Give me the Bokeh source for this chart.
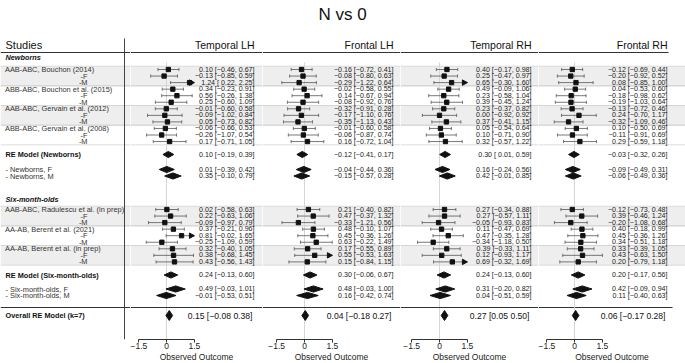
import numpy as np
from bokeh.plotting import figure
from bokeh.layouts import row
from bokeh.models import Range1d, BoxAnnotation, Span, FixedTicker
from bokeh.core.properties import value
from bokeh.embed import file_html
from bokeh.resources import INLINE

# ---------------- data ----------------
TITLE = "N vs 0"
PANELS = ["Temporal LH", "Frontal LH", "Temporal RH", "Frontal RH"]

newborn_labels = ["AAB-ABC, Bouchon (2014)", "-F", "-M",
                  "ABB-ABC, Bouchon et al. (2015)", "-F", "-M",
                  "AAB-ABC, Gervain et al. (2012)", "-F", "-M",
                  "ABB-ABC, Gervain et al. (2008)", "-F", "-M"]
six_labels = ["AAB-ABC, Radulescu et al. (in prep)", "-F", "-M",
              "AA-AB, Berent et al. (2021)", "-F", "-M",
              "AA-AB, Berent et al. (in prep)", "-F", "-M"]
summary_labels = ["RE Model (Newborns)", "- Newborns, F", "- Newborns, M",
                  "RE Model (Six-month-olds)", "- Six-month-olds, F", "- Six-month-olds, M"]
overall_label = "Overall RE Model (k=7)"

# Temporal LH
tlh_nb_est = [0.10, -0.13, 1.24, 0.34, 0.56, 0.25, -0.01, -0.09, 0.05, -0.06, -0.26, 0.17]
tlh_nb_lo = [-0.46, -0.85, 0.22, -0.23, -0.26, -0.60, -0.60, -1.02, -0.73, -0.66, -1.07, -0.71]
tlh_nb_hi = [0.67, 0.59, 2.25, 0.91, 1.38, 1.09, 0.58, 0.84, 0.82, 0.53, 0.54, 1.05]
tlh_six_est = [0.02, 0.22, -0.09, 0.37, 0.81, -0.25, 0.32, 0.38, 0.43]
tlh_six_lo = [-0.58, -0.63, -0.97, -0.21, -0.02, -1.09, -0.40, -0.68, -0.56]
tlh_six_hi = [0.63, 1.06, 0.79, 0.96, 1.65, 0.59, 1.05, 1.45, 1.43]
tlh_sum_est = [0.10, 0.01, 0.35, 0.24, 0.49, -0.01]
tlh_sum_lo = [-0.19, -0.39, -0.10, -0.13, -0.03, -0.53]
tlh_sum_hi = [0.39, 0.42, 0.79, 0.60, 1.01, 0.51]
tlh_overall = [0.15, -0.08, 0.38]

# Frontal LH
flh_nb_est = [-0.16, -0.08, -0.29, -0.02, 0.14, -0.08, -0.32, -0.17, -0.35, -0.01, -0.06, 0.16]
flh_nb_lo = [-0.72, -0.80, -1.22, -0.58, -0.67, -0.92, -0.91, -1.10, -1.13, -0.60, -0.87, -0.72]
flh_nb_hi = [0.41, 0.63, 0.64, 0.55, 0.94, 0.76, 0.28, 0.76, 0.43, 0.58, 0.74, 1.04]
flh_six_est = [0.21, 0.47, -0.33, 0.48, 0.45, 0.63, 0.17, 0.55, 0.15]
flh_six_lo = [-0.40, -0.37, -1.21, -0.10, -0.36, -0.22, -0.55, -0.53, -0.84]
flh_six_hi = [0.82, 1.32, 0.56, 1.07, 1.26, 1.49, 0.89, 1.63, 1.15]
flh_sum_est = [-0.12, -0.04, -0.15, 0.30, 0.48, 0.16]
flh_sum_lo = [-0.41, -0.44, -0.57, -0.06, -0.03, -0.42]
flh_sum_hi = [0.17, 0.36, 0.28, 0.67, 1.00, 0.74]
flh_overall = [0.04, -0.18, 0.27]

# Temporal RH
trh_nb_est = [0.40, 0.25, 0.65, 0.49, 0.23, 0.39, 0.23, 0.00, 0.37, 0.05, 0.10, 0.32]
trh_nb_lo = [-0.17, -0.47, -0.30, -0.09, -0.58, -0.45, -0.37, -0.92, -0.41, -0.54, -0.71, -0.57]
trh_nb_hi = [0.98, 0.97, 1.60, 1.06, 1.04, 1.24, 0.82, 0.92, 1.15, 0.64, 0.90, 1.22]
trh_six_est = [0.27, 0.27, -0.05, 0.11, 0.47, -0.34, 0.39, 0.12, 0.69]
trh_six_lo = [-0.34, -0.57, -0.93, -0.47, -0.35, -1.18, -0.33, -0.93, -0.32]
trh_six_hi = [0.88, 1.11, 0.83, 0.69, 1.28, 0.50, 1.11, 1.17, 1.69]
trh_sum_est = [0.30, 0.16, 0.42, 0.24, 0.31, 0.04]
trh_sum_lo = [0.01, -0.24, -0.01, -0.13, -0.20, -0.51]
trh_sum_hi = [0.59, 0.56, 0.85, 0.60, 0.82, 0.59]
trh_overall = [0.27, 0.05, 0.50]

# Frontal RH
frh_nb_est = [-0.12, -0.20, 0.08, 0.04, -0.18, -0.19, -0.13, 0.24, -0.32, 0.10, -0.11, 0.29]
frh_nb_lo = [-0.69, -0.92, -0.85, -0.53, -0.98, -1.03, -0.72, -0.70, -1.09, -0.50, -0.91, -0.59]
frh_nb_hi = [0.44, 0.52, 1.00, 0.60, 0.62, 0.64, 0.46, 1.17, 0.46, 0.69, 0.69, 1.18]
frh_six_est = [-0.12, 0.39, -0.20, 0.40, 0.45, 0.34, 0.33, 0.43, 0.20]
frh_six_lo = [-0.73, -0.46, -1.08, -0.18, -0.36, -0.51, -0.39, -0.63, -0.79]
frh_six_hi = [0.48, 1.24, 0.68, 0.99, 1.26, 1.18, 1.05, 1.50, 1.18]
frh_sum_est = [-0.03, -0.09, -0.06, 0.20, 0.42, 0.11]
frh_sum_lo = [-0.32, -0.49, -0.49, -0.17, -0.09, -0.40]
frh_sum_hi = [0.26, 0.31, 0.36, 0.56, 0.94, 0.63]
frh_overall = [0.06, -0.17, 0.28]

TICKS = [-1.5, 0, 1.5]
TICK_LABELS = ["\u22121.5", "0", "1.5"]
CLIP = 1.5

# ---------------- layout constants ----------------
FONT = "Liberation Sans"
Y_TOP = 1.0           # layout unit at the top of every frame
Y_AXIS = 340.0        # layout unit where the axis line sits
PAN_H = 339           # 1 px per layout unit
S = 18.6              # px per outcome unit
STEP = 6.55

nb_y = [70 + i * STEP for i in range(12)]
six_y = [210 + i * STEP for i in range(9)]
sum_y = [155, 170, 176.5, 275.5, 289.5, 296]
overall_y = 316
title_y = 15
header_y = 45
header_line = 53
overall_line = 308
bands = []
for base, n in ((70, 4), (210, 3)):
    for g in range(n):
        top = base + 3 * g * STEP - STEP / 2
        bands.append((top, top + 3 * STEP, g % 2 == 0))

BAND_FILL = "#eeeeee"
BAND_LINE = "#cfcfcf"
WHISK = "#555555"
INK = "#111111"
RULE = "#333333"
LABEL_SIZE = "7.4px"
BOLD_SIZE = "7.3px"


def fmt(v, pad=False):
    s = f"{v:.2f}".replace("-", "\u2212")
    if pad and v >= 0:
        s = " " + s
    return s


def style_axis(ax, visible=True):
    ax.major_tick_out = 3
    ax.major_tick_in = 0
    ax.minor_tick_out = 0
    ax.minor_tick_in = 0
    ax.major_label_standoff = 0
    ax.major_label_text_font = FONT
    ax.major_label_text_font_size = "8.5px"
    ax.axis_label = "Observed Outcome"
    ax.axis_label_text_font = FONT
    ax.axis_label_text_font_size = "8.5px"
    ax.axis_label_text_font_style = "normal"
    ax.axis_label_standoff = 0
    if visible:
        ax.axis_line_color = RULE
        ax.major_tick_line_color = RULE
        ax.major_label_text_color = "#222222"
        ax.axis_label_text_color = "#222222"
    else:
        ax.axis_line_color = None
        ax.major_tick_line_color = None
        ax.major_label_text_alpha = 0
        ax.axis_label_text_alpha = 0


def base_fig(width, xr, rule_end=None):
    p = figure(frame_width=width, frame_height=PAN_H, title=None, toolbar_location=None,
               output_backend="svg", min_border=0, x_range=xr,
               y_range=Range1d(Y_AXIS, Y_TOP), y_axis_location=None, x_axis_location="below",
               background_fill_color="white", border_fill_color="white")
    p.outline_line_color = None
    p.xgrid.visible = False
    p.ygrid.visible = False
    for top, bot, shaded in bands:
        if shaded:
            p.add_layout(BoxAnnotation(top=top, bottom=bot, fill_color=BAND_FILL,
                                       fill_alpha=1, line_color=None, level="underlay"))
        for yy in (top, bot):
            p.add_layout(Span(location=yy, dimension="width", line_color=BAND_LINE,
                              line_width=0.7, level="underlay"))
    if rule_end is None:
        p.add_layout(Span(location=header_line, dimension="width", line_color=RULE, line_width=1))
        p.add_layout(Span(location=overall_line, dimension="width", line_color=RULE, line_width=1.2))
    else:
        x0 = xr.start
        p.segment(x0=[x0], y0=[header_line], x1=[rule_end[0]], y1=[header_line],
                  line_color=RULE, line_width=1)
        p.segment(x0=[x0], y0=[overall_line], x1=[rule_end[1]], y1=[overall_line],
                  line_color=RULE, line_width=1.2)
    return p


# ---------------- label column ----------------
lab = base_fig(130, Range1d(0, 130))
lab.xaxis[0].ticker = FixedTicker(ticks=[60])
lab.xaxis[0].major_label_overrides = {60: "0"}
style_axis(lab.xaxis[0], visible=False)
lab.segment(x0=[124], y0=[39], x1=[124], y1=[Y_AXIS], line_color="#444444", line_width=1)
lab.text(x=[5], y=[header_y], text=["Studies"], text_baseline="middle",
         text_font=value(FONT), text_font_size=value("11px"), text_color=INK)
lab.text(x=[5, 5], y=[58, 200], text=["Newborns", "Six-month-olds"], text_baseline="middle",
         text_font=value(FONT), text_font_size=value(BOLD_SIZE), text_font_style="bold italic",
         text_color=INK)
study_labels = newborn_labels + six_labels
study_y = nb_y + six_y
main_lab = [(t, y) for t, y in zip(study_labels, study_y) if not t.startswith("-")]
sub_lab = [(t, y) for t, y in zip(study_labels, study_y) if t.startswith("-")]
lab.text(x=[4.5] * len(main_lab), y=[y for _, y in main_lab], text=[t for t, _ in main_lab],
         text_baseline="middle", text_font=value(FONT), text_font_size=value(LABEL_SIZE),
         text_color="#333333")
lab.text(x=[87] * len(sub_lab), y=[y for _, y in sub_lab], text=[t for t, _ in sub_lab],
         text_align="right", text_baseline="middle", text_font=value(FONT),
         text_font_size=value(LABEL_SIZE), text_color="#333333")
bold_idx = [0, 3]
lab.text(x=[5, 5], y=[sum_y[i] for i in bold_idx], text=[summary_labels[i] for i in bold_idx],
         text_baseline="middle", text_font=value(FONT), text_font_size=value(BOLD_SIZE),
         text_font_style="bold", text_color=INK)
sub_idx = [1, 2, 4, 5]
lab.text(x=[5] * 4, y=[sum_y[i] for i in sub_idx], text=[summary_labels[i] for i in sub_idx],
         text_baseline="middle", text_font=value(FONT), text_font_size=value(LABEL_SIZE),
         text_color="#333333")
lab.text(x=[5], y=[overall_y], text=[overall_label], text_baseline="middle",
         text_font=value(FONT), text_font_size=value(BOLD_SIZE), text_font_style="bold",
         text_color=INK)


# ---------------- panels ----------------
def panel(name, nb, six, sm, ov, left, right, zero, text_right, title=None, rule_end=None):
    est = nb[0] + six[0]
    lo = nb[1] + six[1]
    hi = nb[2] + six[2]
    ys = study_y
    re_units = None if rule_end is None else [(v - zero) / S for v in rule_end]
    p = base_fig(right - left, Range1d((left - zero) / S, (right - zero) / S), re_units)
    tx = (text_right - zero) / S
    if title:
        p.text(x=[(342 - zero) / S], y=[title_y], text=[title], text_align="center",
               text_baseline="middle", text_font=value(FONT), text_font_size=value("17px"),
               text_color=INK)
    # zero reference line
    p.segment(x0=[0], y0=[63], x1=[0], y1=[Y_AXIS], line_color="#d6d6d6", line_width=1)
    # whiskers
    lo_c = [max(v, -CLIP) for v in lo]
    hi_c = [min(v, CLIP) for v in hi]
    p.segment(x0=lo_c, y0=ys, x1=hi_c, y1=ys, line_color=WHISK, line_width=0.8)
    cap_x = [v for v in lo if v >= -CLIP] + [v for v in hi if v <= CLIP]
    cap_y = [y for v, y in zip(lo, ys) if v >= -CLIP] + [y for v, y in zip(hi, ys) if v <= CLIP]
    p.segment(x0=cap_x, y0=[y - 1.6 for y in cap_y], x1=cap_x, y1=[y + 1.6 for y in cap_y],
              line_color=WHISK, line_width=0.8)
    aw = 5.0 / S
    arr_xs = [[CLIP, CLIP - aw, CLIP - aw] for v in hi if v > CLIP]
    arr_ys = [[y, y - 2.7, y + 2.7] for v, y in zip(hi, ys) if v > CLIP]
    arr_xs += [[-CLIP, -CLIP + aw, -CLIP + aw] for v in lo if v < -CLIP]
    arr_ys += [[y, y - 2.7, y + 2.7] for v, y in zip(lo, ys) if v < -CLIP]
    if arr_xs:
        p.patches(xs=arr_xs, ys=arr_ys, fill_color=INK, line_color=INK)
    p.scatter(x=est, y=ys, marker="square", size=4.3, fill_color=INK, line_color=INK)
    # summary diamonds
    dxs = [[l, e, h, e] for e, l, h in zip(*sm)]
    dys = [[y, y - 3.1, y, y + 3.1] for y in sum_y]
    p.patches(xs=dxs, ys=dys, fill_color=INK, line_color=INK)
    # overall
    p.scatter(x=[ov[0]], y=[overall_y], marker="diamond", size=10, fill_color=INK, line_color=INK)
    # texts
    txt = [f"{fmt(e)} [{fmt(l, True)}, {fmt(h)}]" for e, l, h in zip(est, lo, hi)]
    p.text(x=[tx] * len(txt), y=ys, text=txt, text_align="right", text_baseline="middle",
           text_font=value(FONT), text_font_size=value("7.1px"), text_color="#222222")
    stxt = [f"{fmt(e)} [{fmt(l, True)}, {fmt(h)}]" for e, l, h in zip(*sm)]
    p.text(x=[tx] * len(stxt), y=sum_y, text=stxt, text_align="right", text_baseline="middle",
           text_font=value(FONT), text_font_size=value("7.1px"), text_color="#222222")
    p.text(x=[tx - 2 / S], y=[overall_y], text=[f"{fmt(ov[0])} [{fmt(ov[1])} {fmt(ov[2])}]"],
           text_align="right", text_baseline="middle", text_font=value(FONT),
           text_font_size=value("8.6px"), text_color=INK)
    p.text(x=[tx], y=[header_y], text=[name], text_align="right", text_baseline="middle",
           text_font=value(FONT), text_font_size=value("10.5px"), text_color=INK)
    ax = p.xaxis[0]
    ax.bounds = (TICKS[0], TICKS[-1])
    ax.ticker = FixedTicker(ticks=TICKS)
    ax.major_label_overrides = {t: l for t, l in zip(TICKS, TICK_LABELS)}
    style_axis(ax, visible=True)
    return p


p1 = panel(PANELS[0], (tlh_nb_est, tlh_nb_lo, tlh_nb_hi), (tlh_six_est, tlh_six_lo, tlh_six_hi),
           (tlh_sum_est, tlh_sum_lo, tlh_sum_hi), tlh_overall, 130, 262, 166, 254)
p2 = panel(PANELS[1], (flh_nb_est, flh_nb_lo, flh_nb_hi), (flh_six_est, flh_six_lo, flh_six_hi),
           (flh_sum_est, flh_sum_lo, flh_sum_hi), flh_overall, 262, 400, 304, 393, title=TITLE)
p3 = panel(PANELS[2], (trh_nb_est, trh_nb_lo, trh_nb_hi), (trh_six_est, trh_six_lo, trh_six_hi),
           (trh_sum_est, trh_sum_lo, trh_sum_hi), trh_overall, 400, 538, 439, 531)
p4 = panel(PANELS[3], (frh_nb_est, frh_nb_lo, frh_nb_hi), (frh_six_est, frh_six_lo, frh_six_hi),
           (frh_sum_est, frh_sum_lo, frh_sum_hi), frh_overall, 538, 685, 574, 667,
           rule_end=(668, 672))

layout = row(lab, p1, p2, p3, p4)
open("out.html", "w").write(file_html(layout, INLINE))
